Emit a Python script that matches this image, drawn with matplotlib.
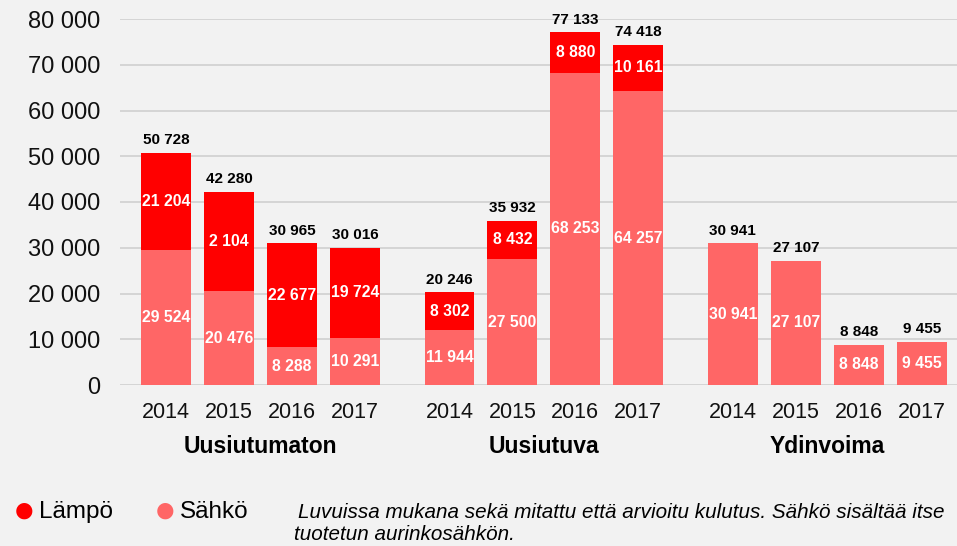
import matplotlib
matplotlib.use("Agg")
import matplotlib.pyplot as plt
from matplotlib.ticker import FuncFormatter

plt.rcParams['font.family'] = ['Liberation Sans', 'DejaVu Sans']

groups = ["Uusiutumaton", "Uusiutuva", "Ydinvoima"]
years = ["2014", "2015", "2016", "2017"]
sahko = [29524, 20476, 8288, 10291,
         11944, 27500, 68253, 64257,
         30941, 27107, 8848, 9455]
lampo = [21204, 21804, 22677, 19724,
         8302, 8432, 8880, 10161,
         0, 0, 0, 0]
lampo_labels = ["21 204", "2 104", "22 677", "19 724",
                "8 302", "8 432", "8 880", "10 161",
                "", "", "", ""]
totals = [50728, 42280, 30965, 30016,
          20246, 35932, 77133, 74418,
          30941, 27107, 8848, 9455]

def fmt(v):
    return f"{int(v):,}".replace(",", " ")

bg = "#f2f2f2"
c_lampo = "#ff0000"
c_sahko = "#ff6666"

fig = plt.figure(figsize=(9.57, 5.46), dpi=100, facecolor=bg)
ax = fig.add_axes([120/957, 1-385/546, 1-120/957, (385-19)/546], facecolor=bg)

pos = []
for g in range(len(groups)):
    for i in range(len(years)):
        pos.append(g * 4.5 + i)

w = 0.79
ax.bar(pos, sahko, width=w, color=c_sahko, zorder=3)
ax.bar(pos, lampo, width=w, bottom=sahko, color=c_lampo, zorder=3)

for x, s, l, ll, t in zip(pos, sahko, lampo, lampo_labels, totals):
    ax.text(x, s/2, fmt(s), ha="center", va="center", color="white",
            fontsize=11.3, fontweight="bold", zorder=4)
    if l > 0:
        ax.text(x, s + l/2, ll, ha="center", va="center", color="white",
                fontsize=11.3, fontweight="bold", zorder=4)
    ax.text(x, s + l + 1200, fmt(t), ha="center", va="bottom", color="black",
            fontsize=11, fontweight="bold", zorder=4)

ax.set_ylim(0, 80000)
ax.set_xlim(-0.73, 12.56)
ax.set_yticks(range(0, 80001, 10000))
ax.yaxis.set_major_formatter(FuncFormatter(lambda v, p: fmt(v)))
ax.set_xticks(pos)
ax.set_xticklabels(years * len(groups))
ax.tick_params(axis="x", length=0, labelsize=15.5, colors="#111111", pad=12)
ax.tick_params(axis="y", length=0, labelsize=17, colors="#111111", pad=14)
ax.grid(axis="y", color="#d0d0d0", linewidth=1.2, zorder=0)
for sp in ax.spines.values():
    sp.set_visible(False)

for g, name in enumerate(groups):
    cx = g * 4.5 + 1.5
    ax.text(cx, -13400, name, ha="center", va="center", fontsize=16.5,
            fontweight="bold", color="black")

# legend
ly = 1 - 512/546
fig.text(24/957, ly, "●", color=c_lampo, fontsize=27, ha="center", va="center")
fig.text(39/957, ly, "Lämpö", color="black", fontsize=17.5, ha="left", va="center")
fig.text(165/957, ly, "●", color=c_sahko, fontsize=27, ha="center", va="center")
fig.text(180/957, ly, "Sähkö", color="black", fontsize=17.5, ha="left", va="center")
fig.text(298/957, ly, "Luvuissa mukana sekä mitattu että arvioitu kulutus. Sähkö sisältää itse",
         fontsize=14.9, style="italic", ha="left", va="center")
fig.text(294/957, 1-535/546, "tuotetun aurinkosähkön.",
         fontsize=14.9, style="italic", ha="left", va="center")

fig.savefig("out.png", dpi=100, facecolor=bg)
